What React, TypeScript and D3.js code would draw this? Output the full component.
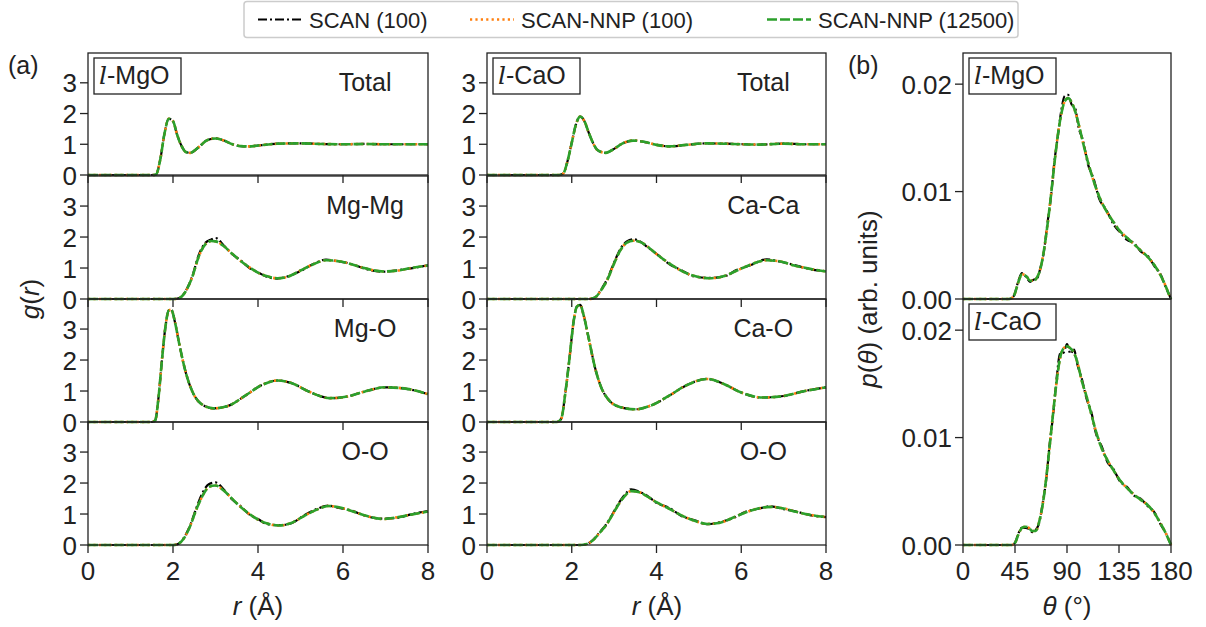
import * as d3 from 'd3';

// ---- g(r) data, l-MgO ----
const rMgOTotal = [0, 1.5, 1.6, 1.7, 1.8, 1.9, 2.0, 2.1, 2.2, 2.3, 2.4, 2.6, 2.8, 3.0, 3.2, 3.4, 3.6, 3.8, 4.0, 4.5, 5, 5.5, 6, 6.5, 7, 7.5, 8];
const gMgOTotal = [0, 0, 0.02, 0.5, 1.35, 1.83, 1.75, 1.3, 0.95, 0.75, 0.72, 0.9, 1.13, 1.19, 1.12, 1.0, 0.94, 0.93, 0.96, 1.02, 1.03, 1.01, 1.0, 1.01, 1.0, 1.0, 1.0];

const rMgMg = [0, 2.0, 2.15, 2.3, 2.45, 2.6, 2.75, 2.9, 3.0, 3.2, 3.4, 3.6, 3.8, 4.0, 4.2, 4.45, 4.7, 5.0, 5.3, 5.6, 5.9, 6.2, 6.5, 6.95, 7.3, 7.6, 8];
const gMgMg = [0, 0, 0.03, 0.25, 0.7, 1.35, 1.75, 1.87, 1.86, 1.7, 1.45, 1.22, 1.02, 0.85, 0.74, 0.67, 0.72, 0.92, 1.12, 1.25, 1.22, 1.12, 1.0, 0.89, 0.92, 1.0, 1.08];
const gMgMgScan = [0, 0, 0.03, 0.26, 0.72, 1.4, 1.8, 1.92, 1.97, 1.72, 1.44, 1.24, 1.0, 0.86, 0.72, 0.66, 0.73, 0.9, 1.13, 1.27, 1.21, 1.13, 0.98, 0.88, 0.93, 0.99, 1.09];

const rMgO = [0, 1.5, 1.58, 1.66, 1.74, 1.82, 1.9, 1.96, 2.05, 2.15, 2.3, 2.45, 2.65, 2.95, 3.3, 3.7, 4.1, 4.45, 4.8, 5.2, 5.7, 6.1, 6.5, 7.0, 7.5, 8];
const gMgO = [0, 0, 0.05, 0.8, 2.0, 3.05, 3.6, 3.62, 3.2, 2.5, 1.6, 1.0, 0.6, 0.44, 0.52, 0.85, 1.2, 1.34, 1.25, 0.98, 0.77, 0.82, 0.98, 1.12, 1.07, 0.9];

const rMgOOO = [0, 2.0, 2.1, 2.25, 2.4, 2.55, 2.7, 2.85, 3.0, 3.2, 3.4, 3.6, 3.8, 4.0, 4.2, 4.5, 4.8, 5.1, 5.4, 5.65, 5.9, 6.2, 6.5, 6.95, 7.3, 7.6, 8];
const gMgOOO = [0, 0, 0.02, 0.2, 0.6, 1.15, 1.6, 1.88, 1.92, 1.75, 1.48, 1.22, 1.0, 0.82, 0.7, 0.63, 0.72, 0.95, 1.15, 1.26, 1.22, 1.1, 0.96, 0.84, 0.9, 0.98, 1.08];
const gMgOOOScan = [0, 0, 0.02, 0.22, 0.62, 1.2, 1.7, 1.97, 2.02, 1.78, 1.46, 1.24, 0.98, 0.84, 0.68, 0.64, 0.71, 0.97, 1.17, 1.27, 1.2, 1.11, 0.95, 0.85, 0.88, 0.99, 1.1];

// ---- g(r) data, l-CaO ----
const rCaOTotal = [0, 1.7, 1.8, 1.9, 2.0, 2.1, 2.2, 2.3, 2.4, 2.5, 2.6, 2.8, 3.0, 3.2, 3.45, 3.7, 4.0, 4.3, 4.7, 5.2, 5.8, 6.4, 7, 7.5, 8];
const gCaOTotal = [0, 0, 0.05, 0.45, 1.05, 1.65, 1.9, 1.75, 1.38, 1.05, 0.82, 0.72, 0.85, 1.03, 1.12, 1.08, 0.98, 0.93, 0.98, 1.03, 1.01, 0.99, 1.02, 1.0, 1.0];

const rCaCa = [0, 2.4, 2.55, 2.7, 2.85, 3.0, 3.15, 3.3, 3.45, 3.6, 3.8, 4.0, 4.3, 4.6, 4.9, 5.25, 5.6, 5.9, 6.2, 6.6, 6.9, 7.2, 7.6, 8];
const gCaCa = [0, 0, 0.05, 0.3, 0.65, 1.15, 1.58, 1.82, 1.88, 1.85, 1.68, 1.45, 1.15, 0.9, 0.74, 0.67, 0.74, 0.92, 1.1, 1.25, 1.22, 1.1, 0.98, 0.89];
const gCaCaScan = [0, 0, 0.05, 0.32, 0.68, 1.18, 1.62, 1.86, 1.93, 1.87, 1.66, 1.46, 1.13, 0.92, 0.72, 0.68, 0.73, 0.94, 1.08, 1.28, 1.21, 1.12, 0.97, 0.9];

const rCaO = [0, 1.65, 1.75, 1.85, 1.95, 2.05, 2.12, 2.2, 2.28, 2.4, 2.55, 2.7, 2.85, 3.1, 3.5, 3.9, 4.3, 4.7, 5.2, 5.6, 6.0, 6.5, 7.0, 7.5, 8];
const gCaO = [0, 0, 0.1, 0.95, 2.1, 3.3, 3.72, 3.78, 3.45, 2.7, 1.75, 1.1, 0.75, 0.5, 0.41, 0.55, 0.85, 1.18, 1.39, 1.22, 0.95, 0.79, 0.84, 1.0, 1.12];

const rCaOOO = [0, 2.2, 2.35, 2.5, 2.65, 2.8, 2.95, 3.1, 3.25, 3.4, 3.6, 3.8, 4.0, 4.3, 4.6, 4.9, 5.2, 5.5, 5.8, 6.1, 6.4, 6.7, 7.0, 7.3, 7.6, 8];
const gCaOOO = [0, 0, 0.03, 0.15, 0.38, 0.62, 0.95, 1.3, 1.58, 1.74, 1.7, 1.55, 1.38, 1.17, 0.95, 0.78, 0.68, 0.72, 0.88, 1.05, 1.18, 1.23, 1.18, 1.07, 0.98, 0.9];
const gCaOOOScan = [0, 0, 0.03, 0.16, 0.4, 0.64, 0.97, 1.33, 1.62, 1.8, 1.72, 1.57, 1.36, 1.2, 0.93, 0.8, 0.67, 0.74, 0.86, 1.07, 1.17, 1.25, 1.16, 1.08, 0.97, 0.9];

// ---- bond angle distributions ----
const thMgO = [0, 40, 44, 48, 51, 55, 58, 61, 64, 67, 70, 73, 76, 79, 82, 85, 88, 91, 94, 97, 100, 104, 108, 113, 118, 124, 130, 136, 142, 148, 154, 160, 166, 171, 175, 178, 180];
const pMgO = [0, 0, 0.0003, 0.0016, 0.0023, 0.0021, 0.0017, 0.0017, 0.002, 0.0028, 0.0045, 0.0068, 0.0095, 0.0125, 0.0152, 0.0172, 0.0184, 0.0187, 0.0183, 0.0175, 0.0163, 0.0145, 0.0128, 0.011, 0.0095, 0.0082, 0.0072, 0.0063, 0.0057, 0.0051, 0.0045, 0.0039, 0.0031, 0.0022, 0.0013, 0.0005, 0];
const pMgOScan = [0, 0, 0.0003, 0.0017, 0.0024, 0.002, 0.0016, 0.0018, 0.0019, 0.0029, 0.0044, 0.007, 0.0094, 0.0127, 0.0151, 0.0175, 0.0189, 0.019, 0.0181, 0.0178, 0.016, 0.0147, 0.0126, 0.0112, 0.0093, 0.0083, 0.007, 0.0062, 0.0055, 0.0052, 0.0044, 0.0040, 0.0030, 0.0023, 0.0012, 0.0005, 0];

const thCaO = [0, 42, 45, 48, 51, 54, 57, 60, 63, 66, 69, 72, 75, 78, 81, 84, 87, 90, 93, 96, 99, 103, 107, 111, 115, 120, 125, 130, 136, 142, 148, 154, 160, 166, 171, 175, 178, 180];
const pCaO = [0, 0, 0.0002, 0.001, 0.0016, 0.0017, 0.0016, 0.0013, 0.0013, 0.0022, 0.0038, 0.0062, 0.0092, 0.0123, 0.0152, 0.0174, 0.0183, 0.0185, 0.0183, 0.0179, 0.017, 0.0152, 0.0138, 0.0122, 0.0106, 0.009, 0.0079, 0.007, 0.006, 0.0053, 0.0047, 0.0042, 0.0037, 0.0029, 0.002, 0.0012, 0.0005, 0];
const pCaOScan = [0, 0, 0.0002, 0.0011, 0.0016, 0.0016, 0.0015, 0.0012, 0.0014, 0.0021, 0.0039, 0.0061, 0.0094, 0.0121, 0.0155, 0.0178, 0.0179, 0.0187, 0.0178, 0.0182, 0.0168, 0.0154, 0.0136, 0.0124, 0.0104, 0.0092, 0.0077, 0.0071, 0.0059, 0.0054, 0.0046, 0.0043, 0.0036, 0.003, 0.0019, 0.0012, 0.0005, 0];

const seriesNames = ['SCAN (100)', 'SCAN-NNP (100)', 'SCAN-NNP (12500)'];
const rTicks = [0, 2, 4, 6, 8];
const gTicks = [0, 1, 2, 3];
const thetaTicks = [0, 45, 90, 135, 180];
const pTicks = [0, 0.01, 0.02];

const styles = [
  { color: '#000000', dash: '9,3,2,3', width: 2.2 },
  { color: '#ff7f0e', dash: '2.2,3.2', width: 2.6 },
  { color: '#2ca02c', dash: '10,3', width: 2.6 },
];

const FONT = '"Liberation Sans", Arial, Helvetica, sans-serif';
const INK = '#222';

type Series = { x: number[]; y: number[] };

function Subplot({ left, right, top, bottom, xDomain, yDomain, xTicks, yTicks, yFormat, showXTicks, showXLabels, series, label, inset }: any) {
  const x = d3.scaleLinear().domain(xDomain).range([left, right]);
  const y = d3.scaleLinear().domain(yDomain).range([bottom, top]);
  const line = d3.line<[number, number]>()
    .x(d => x(d[0]))
    .y(d => y(d[1]))
    .curve(d3.curveMonotoneX);
  return (
    <g>
      {(series as Series[]).map((s, i) => (
        <path key={i} d={line(s.x.map((v, j) => [v, s.y[j]]) as [number, number][]) || ''}
          fill="none" stroke={styles[i].color} strokeWidth={styles[i].width}
          strokeDasharray={styles[i].dash} />
      ))}
      <rect x={left} y={top} width={right - left} height={bottom - top} fill="none" stroke={INK} strokeWidth={1.3} />
      {yTicks.map((t: number) => (
        <g key={t}>
          <line x1={left - 8} x2={left} y1={y(t)} y2={y(t)} stroke={INK} strokeWidth={1.3} />
          <text x={left - 11} y={y(t) + 9.5} textAnchor="end" fontSize={26} fill={INK}>{yFormat(t)}</text>
        </g>
      ))}
      {showXTicks && xTicks.map((t: number) => (
        <g key={t}>
          <line x1={x(t)} x2={x(t)} y1={bottom} y2={bottom + 8} stroke={INK} strokeWidth={1.3} />
          {showXLabels && <text x={x(t)} y={bottom + 35} textAnchor="middle" fontSize={26} fill={INK}>{t}</text>}
        </g>
      ))}
      {label && <text x={left + (right - left) * 0.815} y={top + 38} textAnchor="middle" fontSize={25} fill={INK}>{label}</text>}
      {inset && (
        <g>
          <rect x={left + 6} y={top + 5} width={87} height={36} fill="#fff" stroke={INK} strokeWidth={1.3} />
          <text x={left + 11} y={top + 31} fontSize={25} fill={INK}>
            <tspan fontStyle="italic" fontFamily='"DejaVu Serif", serif'>l</tspan>-{inset}
          </text>
        </g>
      )}
    </g>
  );
}

export default function App() {
  const rowsTop = [53, 176, 299, 422];
  const rowH = 123;
  const colA = { left: 88, right: 428 };
  const colB = { left: 487, right: 826 };
  const gFmt = (t: number) => String(t);
  const pFmt = d3.format('.2f');

  const mgo = [
    { label: 'Total', s: [{ x: rMgOTotal, y: gMgOTotal }, { x: rMgOTotal, y: gMgOTotal }, { x: rMgOTotal, y: gMgOTotal }] },
    { label: 'Mg-Mg', s: [{ x: rMgMg, y: gMgMgScan }, { x: rMgMg, y: gMgMg }, { x: rMgMg, y: gMgMg }] },
    { label: 'Mg-O', s: [{ x: rMgO, y: gMgO }, { x: rMgO, y: gMgO }, { x: rMgO, y: gMgO }] },
    { label: 'O-O', s: [{ x: rMgOOO, y: gMgOOOScan }, { x: rMgOOO, y: gMgOOO }, { x: rMgOOO, y: gMgOOO }] },
  ];
  const cao = [
    { label: 'Total', s: [{ x: rCaOTotal, y: gCaOTotal }, { x: rCaOTotal, y: gCaOTotal }, { x: rCaOTotal, y: gCaOTotal }] },
    { label: 'Ca-Ca', s: [{ x: rCaCa, y: gCaCaScan }, { x: rCaCa, y: gCaCa }, { x: rCaCa, y: gCaCa }] },
    { label: 'Ca-O', s: [{ x: rCaO, y: gCaO }, { x: rCaO, y: gCaO }, { x: rCaO, y: gCaO }] },
    { label: 'O-O', s: [{ x: rCaOOO, y: gCaOOOScan }, { x: rCaOOO, y: gCaOOO }, { x: rCaOOO, y: gCaOOO }] },
  ];

  const legendX = [258, 470, 767];

  return (
    <svg width={1206} height={627} style={{ position: 'absolute', left: 0, top: 0, background: '#fff' }} fontFamily={FONT}>
      <rect width={1206} height={627} fill="#fff" />
      {/* legend */}
      <rect x={244} y={1.5} width={774} height={36} rx={3} fill="#fff" stroke="#cccccc" strokeWidth={1.5} />
      {seriesNames.map((n, i) => (
        <g key={n}>
          <line x1={legendX[i]} x2={legendX[i] + 44} y1={19.5} y2={19.5} stroke={styles[i].color}
            strokeWidth={styles[i].width} strokeDasharray={styles[i].dash} />
          <text x={legendX[i] + 51} y={27.5} fontSize={22} fill={INK}>{n}</text>
        </g>
      ))}

      {mgo.map((p, i) => (
        <Subplot key={'m' + i} left={colA.left} right={colA.right} top={rowsTop[i]} bottom={rowsTop[i] + rowH - (i === 0 ? 1 : 0)}
          xDomain={[0, 8]} yDomain={[0, 3.97]} xTicks={rTicks} yTicks={gTicks} yFormat={gFmt}
          showXTicks showXLabels={i === 3} series={p.s} label={p.label} inset={i === 0 ? 'MgO' : null} />
      ))}
      {cao.map((p, i) => (
        <Subplot key={'c' + i} left={colB.left} right={colB.right} top={rowsTop[i]} bottom={rowsTop[i] + rowH - (i === 0 ? 1 : 0)}
          xDomain={[0, 8]} yDomain={[0, 3.97]} xTicks={rTicks} yTicks={gTicks} yFormat={gFmt}
          showXTicks showXLabels={i === 3} series={p.s} label={p.label} inset={i === 0 ? 'CaO' : null} />
      ))}

      <Subplot left={963} right={1171} top={53} bottom={299} xDomain={[0, 180]} yDomain={[0, 0.0229]}
        xTicks={thetaTicks} yTicks={pTicks} yFormat={pFmt} showXTicks={false} showXLabels={false}
        series={[{ x: thMgO, y: pMgOScan }, { x: thMgO, y: pMgO }, { x: thMgO, y: pMgO }]} label={null} inset="MgO" />
      <Subplot left={963} right={1171} top={299} bottom={545} xDomain={[0, 180]} yDomain={[0, 0.0229]}
        xTicks={thetaTicks} yTicks={pTicks} yFormat={pFmt} showXTicks showXLabels
        series={[{ x: thCaO, y: pCaOScan }, { x: thCaO, y: pCaO }, { x: thCaO, y: pCaO }]} label={null} inset="CaO" />

      {/* axis titles */}
      <text x={258} y={615} textAnchor="middle" fontSize={26} fill={INK}><tspan fontStyle="italic">r</tspan> (Å)</text>
      <text x={657} y={615} textAnchor="middle" fontSize={26} fill={INK}><tspan fontStyle="italic">r</tspan> (Å)</text>
      <text x={1067} y={615} textAnchor="middle" fontSize={26} fill={INK}><tspan fontStyle="italic">θ</tspan> (°)</text>
      <text transform="translate(39,299) rotate(-90)" textAnchor="middle" fontSize={26} fill={INK}>
        <tspan fontStyle="italic">g</tspan>(<tspan fontStyle="italic">r</tspan>)
      </text>
      <text transform="translate(877,299) rotate(-90)" textAnchor="middle" fontSize={26} fill={INK}>
        <tspan fontStyle="italic">p</tspan>(<tspan fontStyle="italic">θ</tspan>) (arb. units)
      </text>
      <text x={8} y={74} fontSize={25} fill={INK}>(a)</text>
      <text x={848} y={74} fontSize={25} fill={INK}>(b)</text>
    </svg>
  );
}
